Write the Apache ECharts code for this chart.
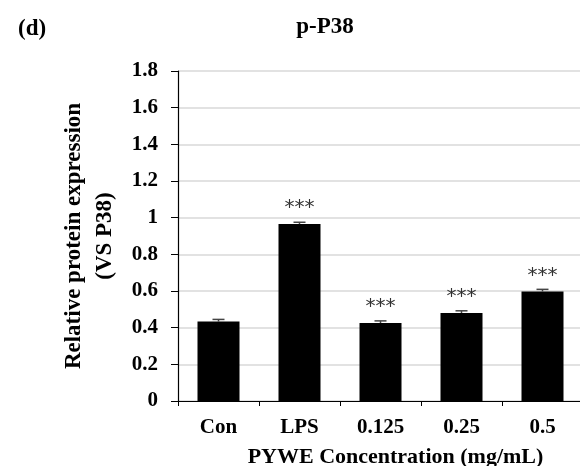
<!DOCTYPE html>
<html>
<head>
<meta charset="utf-8">
<script src="https://cdn.jsdelivr.net/npm/echarts@6/dist/echarts.min.js"></script>
<style>html,body{margin:0;padding:0;background:#fff}#c{width:580px;height:466px}</style>
</head>
<body>
<div id="c"></div>
<script>
var categories = ['Con', 'LPS', '0.125', '0.25', '0.5'];
var values = [0.433, 0.965, 0.425, 0.48, 0.597];
var errors = [0.012, 0.01, 0.012, 0.012, 0.012];
var marks = ['', '***', '***', '***', '***'];
var yTicks = [0, 0.2, 0.4, 0.6, 0.8, 1, 1.2, 1.4, 1.6, 1.8];

var serif = '"Liberation Serif", "Times New Roman", serif';
var chart = echarts.init(document.getElementById('c'), null, {renderer: 'canvas'});

var option = {
  backgroundColor: '#fff',
  animation: false,
  title: [
    {text: '(d)', left: 13, top: 13, textStyle: {fontFamily: serif, fontWeight: 'bold', fontSize: 23, color: '#000'}},
    {text: 'p-P38', left: 320, top: 11, textAlign: 'center', textStyle: {fontFamily: serif, fontWeight: 'bold', fontSize: 23, color: '#000'}}
  ],
  grid: {left: 178, right: -3, top: 71, bottom: 65, containLabel: false, outerBoundsMode: 'none'},
  xAxis: {
    type: 'category',
    data: categories,
    name: 'PYWE Concentration (mg/mL)',
    nameLocation: 'middle',
    nameGap: 45,
    nameTextStyle: {fontFamily: serif, fontWeight: 'bold', fontSize: 22, color: '#000', padding: [0, 0, 0, 30]},
    axisLine: {lineStyle: {color: '#000', width: 1.2}},
    axisTick: {show: true, alignWithLabel: false, length: 5, lineStyle: {color: '#000'}},
    axisLabel: {fontFamily: serif, fontWeight: 'bold', fontSize: 21, color: '#000', margin: 16}
  },
  yAxis: {
    type: 'value',
    min: 0,
    max: 1.8,
    interval: 0.2,
    name: 'Relative protein expression\n(VS P38)',
    nameLocation: 'middle',
    nameGap: 55,
    nameTextStyle: {fontFamily: serif, fontWeight: 'bold', fontSize: 23, color: '#000', lineHeight: 31, align: 'center'},
    axisLine: {show: true, lineStyle: {color: '#000', width: 1.2}},
    axisTick: {show: true, inside: false, length: 7, lineStyle: {color: '#000'}},
    splitLine: {show: true, lineStyle: {color: '#d9d9d9', width: 1.5}},
    axisLabel: {
      fontFamily: serif, fontWeight: 'bold', fontSize: 21, color: '#000', margin: 20,
      formatter: function (v) {
        for (var i = 0; i < yTicks.length; i++) {
          if (Math.abs(yTicks[i] - v) < 1e-9) return String(yTicks[i]);
        }
        return '';
      }
    }
  },
  series: [
    {
      type: 'bar',
      data: values,
      barWidth: 42,
      itemStyle: {color: '#000'},
      label: {
        show: true,
        position: 'top',
        distance: 6,
        fontFamily: '"DejaVu Sans", sans-serif',
        fontSize: 20,
        color: '#333',
        formatter: function (p) { return marks[p.dataIndex]; }
      },
      z: 2
    },
    {
      type: 'custom',
      data: values.map(function (v, i) { return [i, v, v + errors[i]]; }),
      renderItem: function (params, api) {
        var x = api.coord([api.value(0), api.value(1)])[0];
        var y0 = api.coord([api.value(0), api.value(1)])[1];
        var y1 = api.coord([api.value(0), api.value(2)])[1];
        var hw = 6;
        return {
          type: 'group',
          children: [
            {type: 'line', shape: {x1: x, y1: y0, x2: x, y2: y1}, style: {stroke: '#444', lineWidth: 1.5}},
            {type: 'line', shape: {x1: x - hw, y1: y1, x2: x + hw, y2: y1}, style: {stroke: '#444', lineWidth: 1.5}}
          ]
        };
      },
      z: 3
    }
  ]
};
chart.setOption(option);
</script>
</body>
</html>
